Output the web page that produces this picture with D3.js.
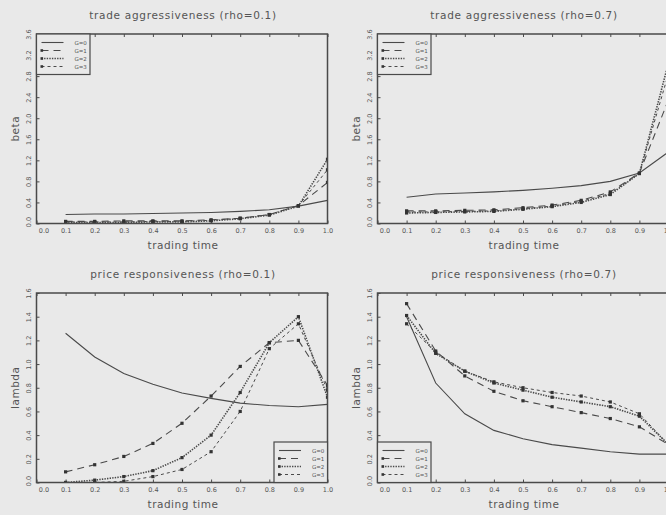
<!DOCTYPE html>
<html>
<head>
<meta charset="utf-8">
<script src="https://cdn.jsdelivr.net/npm/d3@7"></script>
<style>
  html, body { margin: 0; padding: 0; background: #e9e9e9; }
  svg { display: block; font-family: "DejaVu Sans", sans-serif; }
</style>
</head>
<body>
<svg id="chart" width="666" height="515"></svg>
<script>
// trading times at which each series is evaluated
const times = [0.1, 0.2, 0.3, 0.4, 0.5, 0.6, 0.7, 0.8, 0.9, 1.0];
const seriesLabels = ["G=0", "G=1", "G=2", "G=3"];
const xTicks = [0.0, 0.1, 0.2, 0.3, 0.4, 0.5, 0.6, 0.7, 0.8, 0.9, 1.0];
const betaTicks = [0.0, 0.4, 0.8, 1.2, 1.6, 2.0, 2.4, 2.8, 3.2, 3.6];
const lambdaTicks = [0.0, 0.2, 0.4, 0.6, 0.8, 1.0, 1.2, 1.4, 1.6];

// trade aggressiveness, rho = 0.1
const betaLowG0 = [0.17, 0.18, 0.18, 0.19, 0.20, 0.21, 0.23, 0.26, 0.33, 0.44];
const betaLowG1 = [0.04, 0.04, 0.05, 0.05, 0.05, 0.07, 0.10, 0.17, 0.34, 0.78];
const betaLowG2 = [0.02, 0.02, 0.02, 0.03, 0.03, 0.05, 0.09, 0.16, 0.33, 1.22];
const betaLowG3 = [0.03, 0.03, 0.03, 0.04, 0.04, 0.06, 0.10, 0.17, 0.34, 1.02];

// trade aggressiveness, rho = 0.7
const betaHighG0 = [0.50, 0.56, 0.58, 0.60, 0.63, 0.67, 0.72, 0.80, 0.96, 1.36];
const betaHighG1 = [0.24, 0.24, 0.25, 0.26, 0.30, 0.35, 0.44, 0.60, 0.96, 2.35];
const betaHighG2 = [0.20, 0.21, 0.22, 0.23, 0.27, 0.32, 0.40, 0.55, 0.95, 3.05];
const betaHighG3 = [0.22, 0.22, 0.23, 0.24, 0.28, 0.33, 0.42, 0.57, 0.95, 2.85];

// price responsiveness, rho = 0.1
const lambdaLowG0 = [1.26, 1.06, 0.92, 0.83, 0.755, 0.71, 0.67, 0.65, 0.64, 0.66];
const lambdaLowG1 = [0.09, 0.15, 0.22, 0.33, 0.50, 0.73, 0.98, 1.18, 1.20, 0.82];
const lambdaLowG2 = [0.00, 0.02, 0.05, 0.10, 0.21, 0.40, 0.76, 1.18, 1.40, 0.72];
const lambdaLowG3 = [0.00, 0.00, 0.01, 0.05, 0.11, 0.26, 0.60, 1.13, 1.34, 0.78];

// price responsiveness, rho = 0.7
const lambdaHighG0 = [1.40, 0.84, 0.58, 0.44, 0.37, 0.32, 0.29, 0.26, 0.24, 0.24];
const lambdaHighG1 = [1.51, 1.11, 0.90, 0.77, 0.69, 0.64, 0.59, 0.54, 0.47, 0.32];
const lambdaHighG2 = [1.41, 1.09, 0.94, 0.84, 0.78, 0.72, 0.68, 0.64, 0.56, 0.32];
const lambdaHighG3 = [1.34, 1.10, 0.94, 0.85, 0.80, 0.76, 0.73, 0.68, 0.58, 0.32];

const panelTitles = [
  "trade aggressiveness (rho=0.1)",
  "trade aggressiveness (rho=0.7)",
  "price responsiveness (rho=0.1)",
  "price responsiveness (rho=0.7)"
];

// line styles per series: solid, long dash, dense dots, short dash
const dashes = [null, "7,5", "1.4,1.2", "3,3"];
const widths = [1.1, 1.1, 1.6, 1.0];
const ink = "#4a4a4a";
const textInk = "#555";

const svg = d3.select("#chart");
const defs = svg.append("defs");

const panels = [
  { title: panelTitles[0], ylabel: "beta", yTicks: betaTicks, yMax: 3.6,
    series: [betaLowG0, betaLowG1, betaLowG2, betaLowG3],
    left: 36.5, top: 34, legend: "topleft" },
  { title: panelTitles[1], ylabel: "beta", yTicks: betaTicks, yMax: 3.6,
    series: [betaHighG0, betaHighG1, betaHighG2, betaHighG3],
    left: 377.5, top: 34, legend: "topleft" },
  { title: panelTitles[2], ylabel: "lambda", yTicks: lambdaTicks, yMax: 1.6,
    series: [lambdaLowG0, lambdaLowG1, lambdaLowG2, lambdaLowG3],
    left: 36.5, top: 293, legend: "bottomright" },
  { title: panelTitles[3], ylabel: "lambda", yTicks: lambdaTicks, yMax: 1.6,
    series: [lambdaHighG0, lambdaHighG1, lambdaHighG2, lambdaHighG3],
    left: 377.5, top: 293, legend: "bottomleft" }
];

const plotW = 291, plotH = 189.5;

panels.forEach((p, i) => {
  const x = d3.scaleLinear().domain([0, 1]).range([p.left, p.left + plotW]);
  const y = d3.scaleLinear().domain([0, p.yMax]).range([p.top + plotH, p.top]);
  const g = svg.append("g");

  // title
  g.append("text")
    .attr("x", p.left + plotW / 2 + 1)
    .attr("y", p.top - 15)
    .attr("text-anchor", "middle")
    .attr("font-size", 10.5)
    .attr("letter-spacing", 0.7)
    .attr("fill", textInk)
    .text(p.title);

  // x axis labels with inward ticks
  const xAxis = g.append("g")
    .attr("transform", `translate(0,${p.top + plotH})`)
    .call(d3.axisBottom(x).tickValues(xTicks).tickFormat(d3.format(".1f"))
      .tickSizeInner(-3).tickSizeOuter(0).tickPadding(5));
  xAxis.select(".domain").remove();
  xAxis.selectAll("text").attr("font-size", 6.5).attr("fill", textInk)
    .attr("font-family", "DejaVu Sans, sans-serif");
  xAxis.selectAll("text").filter(d => d === 0).attr("dx", 7);
  xAxis.selectAll("line").attr("stroke", ink);

  // inward ticks along the top edge
  const xTop = g.append("g")
    .attr("transform", `translate(0,${p.top})`)
    .call(d3.axisTop(x).tickValues(xTicks).tickFormat("").tickSizeInner(-3).tickSizeOuter(0));
  xTop.select(".domain").remove();
  xTop.selectAll("line").attr("stroke", ink);

  // y axis with rotated labels
  const yAxis = g.append("g")
    .attr("transform", `translate(${p.left},0)`)
    .call(d3.axisLeft(y).tickValues(p.yTicks).tickFormat(d3.format(".1f"))
      .tickSizeInner(-3).tickSizeOuter(0));
  yAxis.select(".domain").remove();
  yAxis.selectAll("line").attr("stroke", ink);
  yAxis.selectAll("text")
    .attr("x", 0).attr("dy", 0)
    .attr("text-anchor", "middle")
    .attr("transform", d => `translate(-6,${d === 0 ? -2 : 0}) rotate(-90)`)
    .attr("font-size", 6.5).attr("fill", textInk)
    .attr("font-family", "DejaVu Sans, sans-serif");

  // axis titles
  g.append("text")
    .attr("x", p.left + plotW / 2 + 1)
    .attr("y", p.top + plotH + 25)
    .attr("text-anchor", "middle")
    .attr("font-size", 10.5)
    .attr("letter-spacing", 0.5)
    .attr("fill", textInk)
    .text("trading time");
  g.append("text")
    .attr("transform", `translate(${p.left - 18},${p.top + plotH / 2}) rotate(-90)`)
    .attr("text-anchor", "middle")
    .attr("font-size", 10.5)
    .attr("letter-spacing", 0.5)
    .attr("fill", textInk)
    .text(p.ylabel);

  // clip to the plotting frame
  const clipId = "clip" + i;
  defs.append("clipPath").attr("id", clipId)
    .append("rect").attr("x", p.left).attr("y", p.top).attr("width", plotW).attr("height", plotH);

  const plot = g.append("g").attr("clip-path", `url(#${clipId})`);
  const line = d3.line().x(d => x(d[0])).y(d => y(d[1]));

  p.series.forEach((vals, k) => {
    const pts = times.map((t, j) => [t, vals[j]]);
    plot.append("path")
      .attr("d", line(pts))
      .attr("fill", "none")
      .attr("stroke", ink)
      .attr("stroke-width", widths[k])
      .attr("stroke-dasharray", dashes[k]);
    if (k > 0) {
      plot.selectAll(null).data(pts).enter().append("rect")
        .attr("x", d => x(d[0]) - 1.6)
        .attr("y", d => y(d[1]) - 1.6)
        .attr("width", 3.2).attr("height", 3.2)
        .attr("fill", "#333");
    }
  });

  // frame
  g.append("rect")
    .attr("x", p.left).attr("y", p.top)
    .attr("width", plotW).attr("height", plotH)
    .attr("fill", "none").attr("stroke", ink).attr("stroke-width", 1.5);

  // legend
  const lw = 53.5, lh = 40.5;
  let lx, ly;
  if (p.legend === "topleft") { lx = p.left; ly = p.top; }
  else if (p.legend === "bottomright") { lx = p.left + plotW - lw; ly = p.top + plotH - lh; }
  else { lx = p.left; ly = p.top + plotH - lh; }
  const lg = g.append("g").attr("transform", `translate(${lx},${ly})`);
  lg.append("rect").attr("width", lw).attr("height", lh)
    .attr("fill", "#e9e9e9").attr("stroke", ink).attr("stroke-width", 1.2);
  seriesLabels.forEach((lab, k) => {
    const ry = 8.5 + k * 8;
    lg.append("line")
      .attr("x1", 5).attr("x2", 27).attr("y1", ry).attr("y2", ry)
      .attr("stroke", ink).attr("stroke-width", widths[k])
      .attr("stroke-dasharray", dashes[k]);
    if (k > 0) {
      lg.append("rect").attr("x", 4).attr("y", ry - 1.3).attr("width", 2.6).attr("height", 2.6)
        .attr("fill", "#333");
    }
    lg.append("text")
      .attr("x", 38).attr("y", ry + 2)
      .attr("font-size", 5.5)
      .attr("fill", textInk)
      .text(lab);
  });
});
</script>
</body>
</html>
